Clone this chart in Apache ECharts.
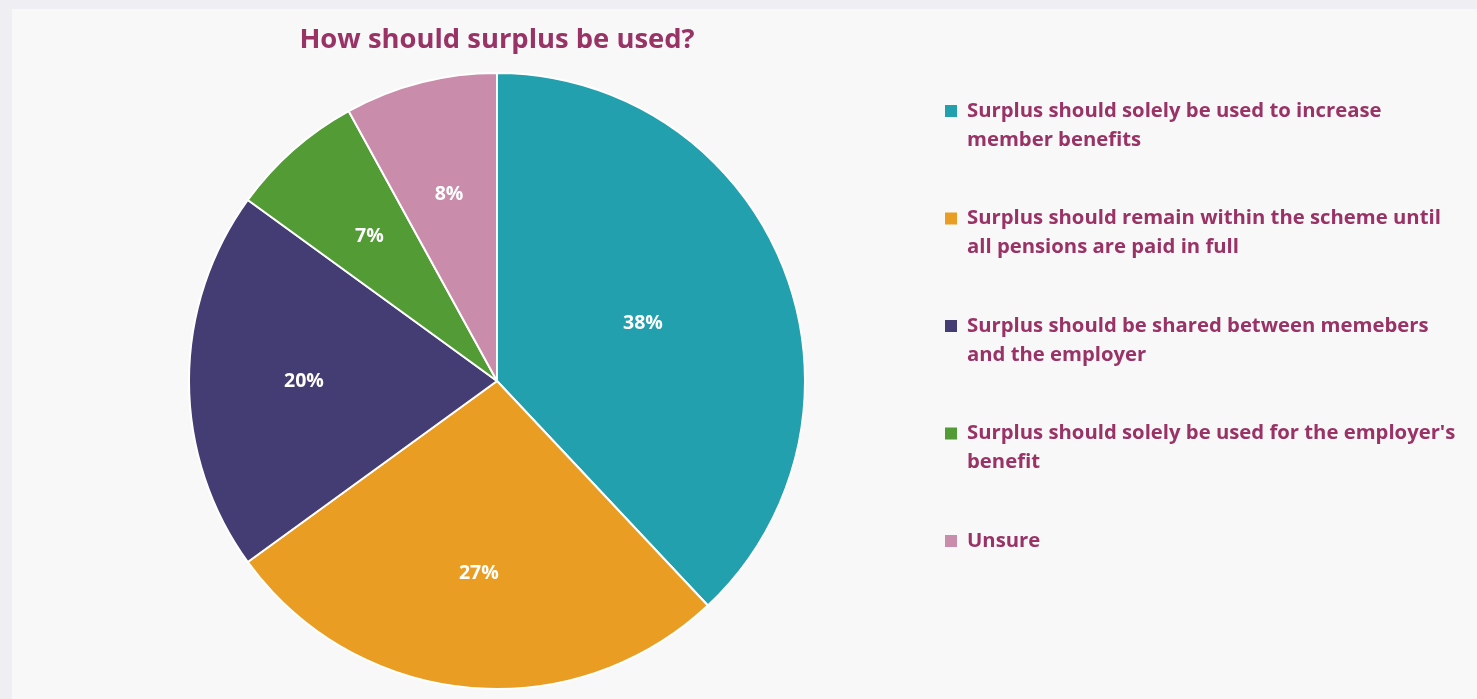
<!DOCTYPE html>
<html>
<head>
<meta charset="utf-8">
<script src="https://cdn.jsdelivr.net/npm/echarts@6/dist/echarts.min.js"></script>
<style>
  html, body { margin: 0; padding: 0; background: #efeff3; }
  #chart { position: absolute; left: 12px; top: 9px; width: 1465px; height: 690px; background: #f8f8f8; }
</style>
</head>
<body>
<div id="chart"></div>
<script>
const categories = [
  'Surplus should solely be used to increase\nmember benefits',
  'Surplus should remain within the scheme until\nall pensions are paid in full',
  'Surplus should be shared between memebers\nand the employer',
  "Surplus should solely be used for the employer's\nbenefit",
  'Unsure'
];
const values = [38, 27, 20, 7, 8];
const colors = ['#22a0ad', '#e99e23', '#433d74', '#529b35', '#c98cab'];

const textColor = '#993366';
const font = 'Open Sans';

const chart = echarts.init(document.getElementById('chart'));

const rich = {
  t: { color: textColor, fontFamily: font, fontWeight: 'bold', fontSize: 20.3, lineHeight: 29 },
  ind: { width: 22 }
};
colors.forEach((c, i) => {
  rich['sq' + i] = { backgroundColor: c, width: 12, height: 12, verticalAlign: 'middle' };
  rich['g' + i] = { width: 10 };
});

const pieData = categories.map((name, i) => ({
  name: name,
  value: values[i],
  itemStyle: { color: colors[i] }
}));

const labelStyle = {
  show: true,
  position: 'inside',
  formatter: '{c}%',
  color: '#ffffff',
  fontFamily: font,
  fontWeight: 'bold',
  fontSize: 19.5
};

const option = {
  title: {
    text: 'How should surplus be used?',
    left: 485,
    top: 18,
    padding: 0,
    textAlign: 'center',
    textStyle: { color: textColor, fontFamily: font, fontWeight: 'bold', fontSize: 27.4 }
  },
  legend: {
    orient: 'vertical',
    left: 928,
    top: 92,
    padding: 0,
    itemGap: 58.5,
    itemWidth: 0,
    itemHeight: 0,
    icon: 'none',
    selectedMode: false,
    data: categories,
    formatter: function (name) {
      const i = categories.indexOf(name);
      const lines = name.split('\n');
      return lines.map((l, k) => (k === 0 ? '{sq' + i + '|}{g' + i + '|}' : '{ind|}') + '{t|' + l + '}').join('\n');
    },
    textStyle: { rich: rich }
  },
  series: [
    {
      type: 'pie',
      center: [485, 372],
      radius: [0, 308],
      startAngle: 90,
      clockwise: true,
      silent: true,
      itemStyle: { borderColor: '#ffffff', borderWidth: 2 },
      label: labelStyle,
      labelLine: { show: false },
      data: pieData.map((d, i) => Object.assign({}, d, { label: { show: i === 0 } }))
    },
    {
      // transparent ring used only to place the remaining labels further out
      type: 'pie',
      center: [485, 372],
      radius: [90, 290],
      startAngle: 90,
      clockwise: true,
      silent: true,
      itemStyle: { color: 'rgba(0,0,0,0)' },
      label: labelStyle,
      labelLine: { show: false },
      data: pieData.map((d, i) => ({ name: d.name, value: d.value, label: { show: i !== 0 } }))
    }
  ]
};

chart.setOption(option);
</script>
</body>
</html>
